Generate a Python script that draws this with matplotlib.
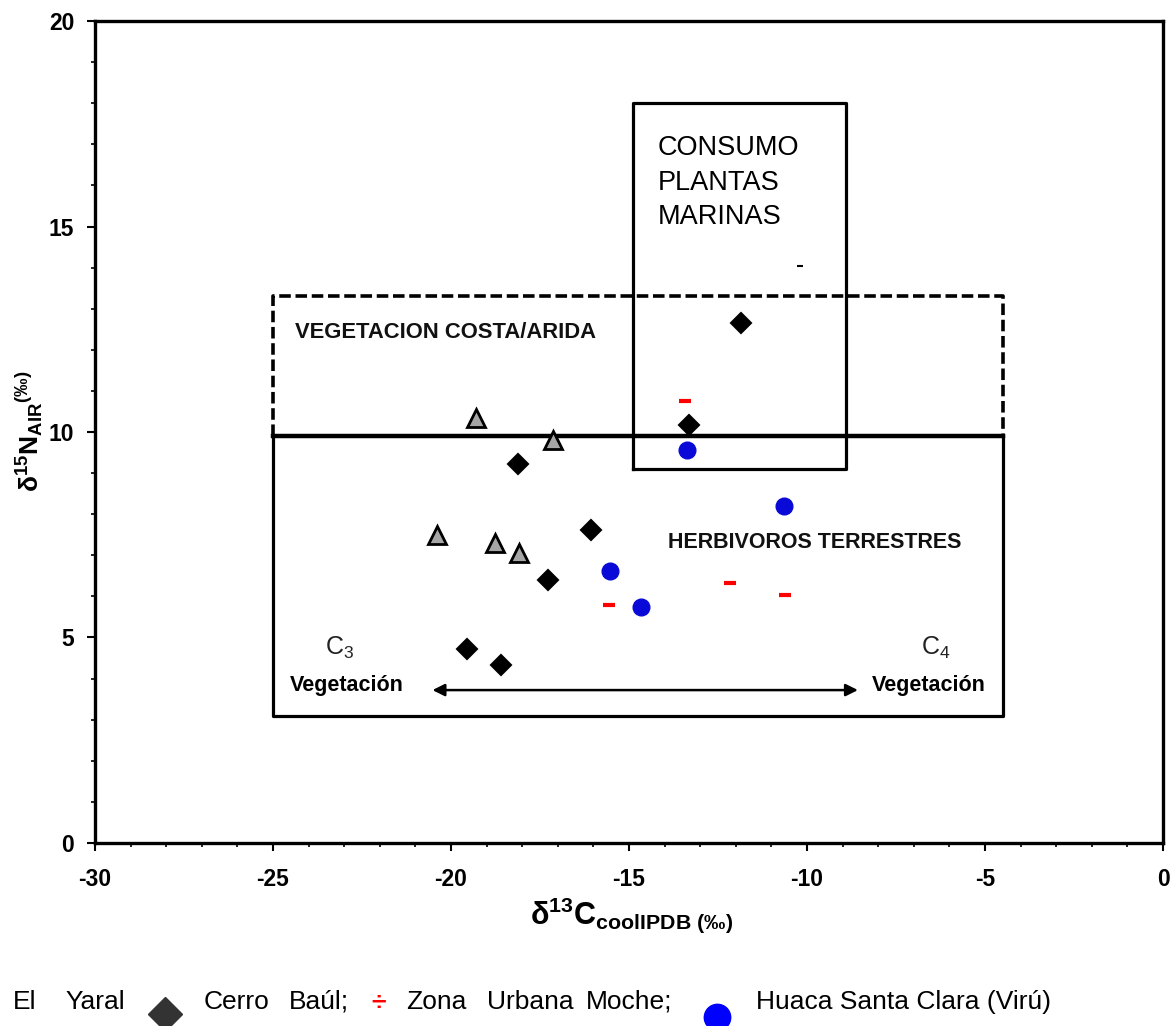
import matplotlib
matplotlib.use("Agg")
import matplotlib.pyplot as plt
from matplotlib.ticker import MultipleLocator

plt.rcParams['font.family'] = ['Liberation Sans', 'DejaVu Sans']
plt.rcParams['mathtext.fontset'] = 'custom'
plt.rcParams['mathtext.rm'] = 'Liberation Sans'
plt.rcParams['mathtext.bf'] = 'Liberation Sans:bold'
plt.rcParams['mathtext.it'] = 'Liberation Sans:italic'

# ---- data ----
yaral_x = [-19.3, -17.13, -20.4, -18.76, -18.09]
yaral_y = [10.34, 9.80, 7.49, 7.30, 7.06]

baul_x = [-11.85, -13.31, -18.12, -16.07, -17.28, -19.55, -18.60]
baul_y = [12.65, 10.17, 9.22, 7.62, 6.40, 4.72, 4.33]

moche_x = [-13.43, -15.56, -12.16, -10.62]
moche_y = [10.75, 5.79, 6.33, 6.03]

viru_x = [-13.37, -10.65, -15.53, -14.66]
viru_y = [9.56, 8.20, 6.62, 5.74]

xticks = [-30, -25, -20, -15, -10, -5, 0]
yticks = [0, 5, 10, 15, 20]

# zones
marine_box = (-14.9, -8.9, 9.1, 18.0)       # x0, x1, y0, y1
arid_box = (-25.0, -4.5, 9.9, 13.3)
herb_box = (-25.0, -4.5, 3.1, 9.9)

fig = plt.figure(figsize=(11.71, 10.26), dpi=100)
ax = fig.add_axes([0.0811, 0.1784, 0.9121, 0.8011])
ax.set_xlim(-30, 0)
ax.set_ylim(0, 20)

for s in ax.spines.values():
    s.set_linewidth(2.4)
ax.set_xticks(xticks)
ax.set_yticks(yticks)
ax.xaxis.set_minor_locator(MultipleLocator(1))
ax.yaxis.set_minor_locator(MultipleLocator(1))
ax.tick_params(which='major', direction='out', length=6, width=1.5)
ax.tick_params(axis='x', which='major', pad=12)
ax.tick_params(axis='y', which='major', pad=9)
ax.tick_params(which='minor', direction='out', length=3, width=1.2)
tickfont = dict(family=['Liberation Sans', 'DejaVu Sans'], weight='bold', size=16.5)
ax.set_xticklabels([str(t) for t in xticks], **tickfont)
ax.set_yticklabels([str(t) for t in yticks], **tickfont)

# marine box (solid)
x0, x1, y0, y1 = marine_box
ax.plot([x0, x1, x1, x0, x0], [y0, y0, y1, y1, y0], color='black', lw=2.3, zorder=2)
# arid box (dashed, bottom is the solid line)
x0, x1, y0, y1 = arid_box
ax.plot([x0, x0, x1, x1], [y0, y1, y1, y0], color='black', lw=2.6,
        linestyle=(0, (3.2, 1.3)), zorder=2)
# herbivore box
x0, x1, y0, y1 = herb_box
ax.plot([x0, x0, x1, x1], [y1, y0, y0, y1], color='black', lw=2.3, zorder=2)
ax.plot([x0, x1], [y1, y1], color='black', lw=3.2, zorder=2)

# arrow
ax.annotate('', xy=(-20.52, 3.72), xytext=(-8.57, 3.72),
            arrowprops=dict(arrowstyle='<|-|>', color='black', lw=1.8,
                            mutation_scale=18, shrinkA=0, shrinkB=0))

# texts
ax.text(-14.2, 16.9, 'CONSUMO', fontsize=19.5, va='center', ha='left')
ax.text(-14.2, 16.07, 'PLANTAS', fontsize=19.5, va='center', ha='left')
ax.text(-14.2, 15.24, 'MARINAS', fontsize=19.5, va='center', ha='left')
ax.text(-24.38, 12.43, 'VEGETACION COSTA/ARIDA', fontsize=15.8, weight='bold',
        va='center', ha='left', color='#111111')
ax.text(-13.9, 7.30, 'HERBIVOROS TERRESTRES', fontsize=15.5, weight='bold',
        va='center', ha='left', color='#111111')
ax.text(-23.12, 4.74, r'C$_{\mathregular{3}}$', fontsize=18, va='center', ha='center',
        color='#222222')
ax.text(-22.92, 3.84, 'Vegetación', fontsize=15.5, weight='bold', va='center', ha='center')
ax.text(-6.38, 4.74, r'C$_{\mathregular{4}}$', fontsize=18, va='center', ha='center',
        color='#222222')
ax.text(-6.57, 3.84, 'Vegetación', fontsize=15.5, weight='bold', va='center', ha='center')

# points
ax.plot(yaral_x, yaral_y, linestyle='none', marker='^', ms=13, mfc='#a6a6a6',
        mec='black', mew=2.0, zorder=4)
ax.plot(baul_x, baul_y, linestyle='none', marker='D', ms=10, mfc='black',
        mec='black', mew=1.5, zorder=4)
ax.plot(moche_x, moche_y, linestyle='none', marker='_', ms=8.5, mec='#ff0000',
        mew=3.0, zorder=4)
ax.plot(viru_x, viru_y, linestyle='none', marker='o', ms=12, mfc='#0a0ad8',
        mec='#0a0ad8', zorder=4)
ax.plot([-10.2], [14.05], linestyle='none', marker='_', ms=4, mec='black', mew=1.5)

# axis labels
fig.text(0.539, 0.108, r'$\mathbf{δ^{13}C_{coolIPDB\ (‰)}}$', fontsize=22,
         ha='center', va='center')
fig.text(0.025, 0.58, r'$\mathbf{δ^{15}N_{AIR}}{}^{\mathbf{(‰)}}$', fontsize=19,
         rotation=90, ha='center', va='center')

# legend row
ly = 1 - 1002 / 1026
legfont = dict(fontsize=19, va='center', ha='left')
fig.text(13/1171, ly, 'El', **legfont)
fig.text(65/1171, ly, 'Yaral', **legfont)
fig.text(204/1171, ly, 'Cerro', **legfont)
fig.text(289/1171, ly, 'Baúl;', **legfont)
fig.text(379/1171, 1 - 1003 / 1026, '÷', fontsize=19, color='red', weight='bold',
         ha='center', va='center')
fig.text(406/1171, ly, 'Zona', **legfont)
fig.text(487/1171, ly, 'Urbana', **legfont)
fig.text(586/1171, ly, 'Moche;', **legfont)
fig.text(756/1171, ly, 'Huaca Santa Clara (Virú)', **legfont)
lax = fig.add_axes([0, 0, 1, 1], zorder=-1)
lax.set_xlim(0, 1171)
lax.set_ylim(1026, 0)
lax.axis('off')
lax.plot([165], [1014], marker='D', ms=17, color='#333333', linestyle='none')
lax.plot([717], [1017], marker='o', ms=19, color='#0000ff', linestyle='none')

fig.savefig('out.png', dpi=100)
